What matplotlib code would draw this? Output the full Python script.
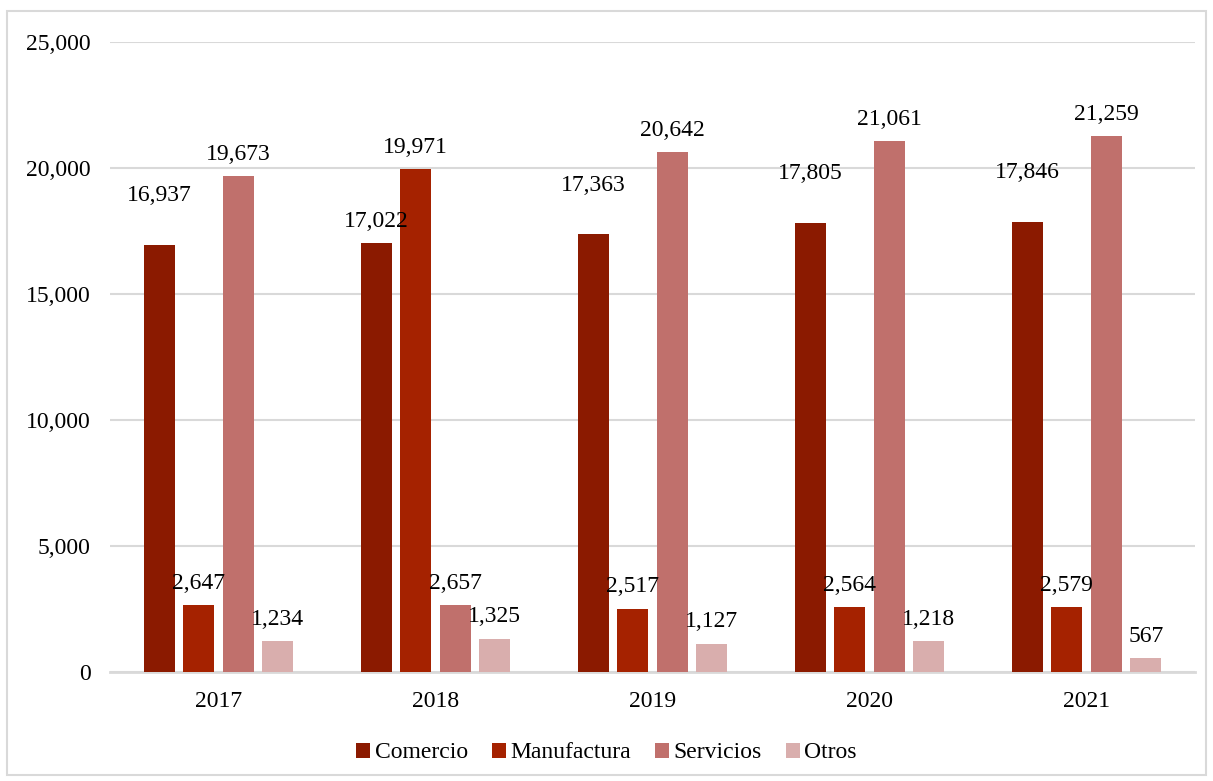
import numpy as np
import matplotlib.pyplot as plt
from matplotlib.patches import Rectangle

plt.rcParams['font.family'] = ['Liberation Serif', 'DejaVu Serif']

years = ['2017', '2018', '2019', '2020', '2021']
series = ['Comercio', 'Manufactura', 'Servicios', 'Otros']
comercio = [16937, 17022, 17363, 17805, 17846]
manufactura = [2647, 19971, 2517, 2564, 2579]
servicios = [19673, 2657, 20642, 21061, 21259]
otros = [1234, 1325, 1127, 1218, 567]
colors = ['#8B1A00', '#A52200', '#C0706C', '#D9AEAD']

# extra lift (points) for labels that would collide with neighbours
lift = [
    [20, 0, 20, 20, 20],
    [0, 0, 0, 0, 0],
    [0, 0, 0, 0, 0],
    [0, 0, 0, 0, 0],
]

fig = plt.figure(figsize=(12.13, 7.81), dpi=100)
ax = fig.add_axes([110 / 1213, 1 - 672 / 781, 1085 / 1213, 630 / 781])

x = np.arange(len(years))
step = 0.182
width = 0.145
values = [comercio, manufactura, servicios, otros]
for k, (name, vals) in enumerate(zip(series, values)):
    pos = x + (k - 1.5) * step
    ax.bar(pos, vals, width, color=colors[k], label=name, zorder=3)
    for i, v in enumerate(vals):
        ax.annotate(f'{v:,}', (pos[i], v), xytext=(0, 8 + lift[k][i]),
                    textcoords='offset points', ha='center', va='bottom',
                    fontsize=17, zorder=4)

ax.set_xlim(-0.5, len(years) - 0.5)
ax.set_ylim(0, 25000)
ax.set_yticks(range(0, 25001, 5000))
ax.yaxis.set_major_formatter(plt.FuncFormatter(lambda v, p: f'{int(v):,}'))
ax.set_xticks(x)
ax.set_xticklabels(years)
ax.tick_params(axis='both', length=0, labelsize=17)
ax.tick_params(axis='y', pad=14)
ax.tick_params(axis='x', pad=14)
ax.grid(axis='y', color='#D9D9D9', linewidth=1.5, zorder=0)
for s in ['top', 'right', 'left']:
    ax.spines[s].set_visible(False)
ax.spines['bottom'].set_color('#D9D9D9')
ax.spines['bottom'].set_linewidth(2)

handles, labels = ax.get_legend_handles_labels()
fig.legend(handles, labels, loc='center', bbox_to_anchor=(0.5, 1 - 753 / 781),
           ncol=4, frameon=False, fontsize=17, handlelength=0.6, handleheight=0.6,
           handletextpad=0.2, columnspacing=1.0)

fig.patches.append(Rectangle((7 / 1213, 1 - 775 / 781), 1199 / 1213, 764 / 781,
                             transform=fig.transFigure, fill=False,
                             edgecolor='#D9D9D9', linewidth=1.5))

fig.savefig('out.png', dpi=100)
